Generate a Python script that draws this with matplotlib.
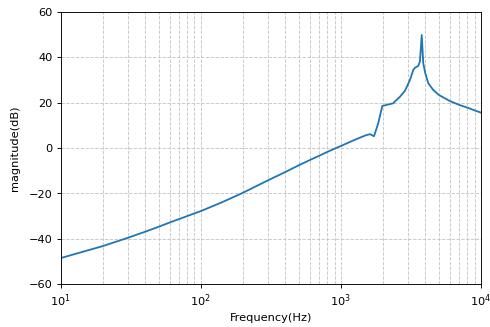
import matplotlib
matplotlib.use("Agg")
import matplotlib.pyplot as plt

# values (frequency in Hz, magnitude in dB)
freq = [10, 20, 30, 40, 50, 60, 70, 90, 100, 144, 200, 264, 300, 400,
        500, 600, 700, 800, 900, 1000, 1160, 1370, 1520, 1611, 1722, 1846,
        1973, 2119, 2355, 2640, 2870, 3110, 3290, 3380, 3565, 3664, 3775,
        3870, 4000, 4210, 4560, 5000, 6000, 7000, 8000, 9000, 10000]
mag = [-48.5, -43.2, -39.6, -36.9, -34.7, -32.8, -31.3, -28.8, -27.8,
       -23.7, -19.7, -16.0, -14.3, -10.6, -7.6, -5.3, -3.4, -1.7, -0.3,
       0.9, 2.7, 4.6, 5.7, 6.1, 5.2, 10.9, 18.5, 19.0, 19.7, 22.6, 25.3,
       30.0, 34.5, 35.4, 36.2, 38.1, 49.8, 37.4, 33.0, 28.5, 25.6, 23.4,
       20.7, 19.0, 17.8, 16.6, 15.6]

yticks = [-60, -40, -20, 0, 20, 40, 60]

fig, ax = plt.subplots(figsize=(6, 4), dpi=81.8)
fig.subplots_adjust(left=0.124, right=0.98, top=0.963, bottom=0.131)

ax.semilogx(freq, mag, color='#1f77b4', lw=1.6)
ax.set_xlim(10, 1e4)
ax.set_ylim(-60, 60)
ax.set_yticks(yticks)
ax.tick_params(which='minor', length=0)
ax.grid(True, which='both', ls='--', color='0.78', lw=0.8)
ax.set_xlabel('Frequency(Hz)')
ax.set_ylabel('magnitude(dB)', labelpad=8)

fig.savefig('out.png', dpi=81.8)
